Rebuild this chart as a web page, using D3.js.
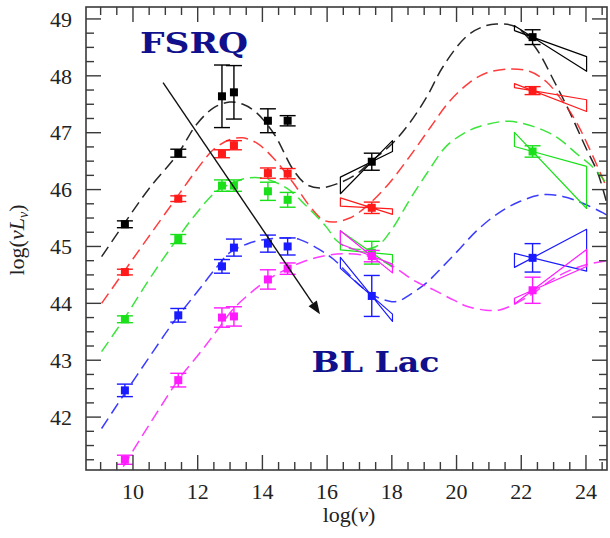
<!DOCTYPE html>
<html>
<head>
<meta charset="utf-8">
<script src="https://cdn.jsdelivr.net/npm/d3@7"></script>
<style>
  html, body { margin: 0; padding: 0; background: #fff; }
  svg { display: block; }
</style>
</head>
<body>
<svg id="chart" width="610" height="538"></svg>
<script>
// ---------------- DATA ----------------
const seriesNames = ["black", "red", "green", "blue", "magenta"];
const seriesColors = ["#000000", "#ff1a1a", "#19e019", "#1a1aff", "#ff1aff"];

// log(nu) positions of the observed points
const pointNu = [9.75, 11.4, 12.75, 13.12, 14.17, 14.78, 17.38, 22.35];

// log(nu L_nu) values and errors per series
const blackL   = [45.39, 46.64, 47.64, 47.71, 47.21, 47.21, 46.49, 48.68];
const blackErr = [0.06, 0.07, 0.55, 0.47, 0.21, 0.09, 0.15, 0.13];
const redL     = [44.55, 45.84, 46.63, 46.78, 46.29, 46.28, 45.68, 47.74];
const redErr   = [0.05, 0.05, 0.07, 0.08, 0.09, 0.09, 0.1, 0.07];
const greenL   = [43.72, 45.13, 46.07, 46.07, 45.97, 45.82, 44.89, 46.67];
const greenErr = [0.06, 0.08, 0.1, 0.1, 0.16, 0.13, 0.2, 0.1];
const blueL    = [42.47, 43.79, 44.65, 44.98, 45.05, 45.0, 44.13, 44.8];
const blueErr  = [0.11, 0.12, 0.12, 0.15, 0.15, 0.15, 0.36, 0.25];
const magentaL   = [41.25, 42.65, 43.75, 43.77, 44.42, 44.61, 44.83, 44.23];
const magentaErr = [0.08, 0.12, 0.17, 0.17, 0.17, 0.1, 0.1, 0.23];

// model SED curves (dashed): [log nu, log nuLnu]
const blackCurve = [[9.03,44.82],[9.75,45.42],[10.5,46.02],[11.4,46.64],[11.97,47.15],[12.5,47.44],[12.99,47.54],[13.4,47.5],[13.82,47.35],[14.38,46.96],[14.95,46.35],[15.36,46.09],[15.77,46.03],[16.3,46.1],[16.9,46.27],[17.37,46.5],[18.0,46.8],[18.55,47.17],[19.1,47.65],[19.58,48.16],[20.3,48.69],[20.8,48.86],[21.23,48.91],[21.84,48.86],[22.45,48.49],[23.02,47.9],[23.49,47.37],[24.0,46.73],[24.36,46.3],[24.65,45.75]];
const redCurve = [[9.03,44.0],[9.75,44.58],[10.42,45.12],[11.3,45.82],[11.97,46.35],[12.48,46.7],[13.0,46.88],[13.4,46.91],[13.82,46.82],[14.33,46.56],[14.95,46.12],[15.46,45.71],[15.87,45.47],[16.2,45.43],[16.7,45.5],[17.21,45.7],[17.9,46.1],[18.55,46.58],[19.2,47.1],[19.78,47.55],[20.4,47.88],[20.92,48.05],[21.6,48.12],[22.25,48.08],[22.77,47.9],[23.28,47.55],[23.69,47.2],[24.1,46.73],[24.65,46.02]];
const greenCurve = [[9.03,43.15],[9.75,43.75],[10.5,44.42],[11.35,45.12],[11.97,45.59],[12.58,45.97],[13.1,46.12],[13.51,46.2],[14.02,46.2],[14.74,46.03],[15.36,45.71],[15.98,45.34],[16.3,45.1],[16.75,44.96],[17.52,45.0],[18.0,45.3],[18.55,45.82],[19.1,46.3],[19.68,46.76],[20.2,46.98],[20.71,47.11],[21.64,47.2],[22.66,47.05],[23.2,46.88],[23.69,46.64],[24.2,46.4],[24.65,46.1]];
const blueCurve = [[9.03,41.8],[9.75,42.42],[10.5,43.05],[11.24,43.66],[11.97,44.19],[12.58,44.63],[12.99,44.89],[13.51,45.04],[14.02,45.12],[14.74,45.15],[15.16,45.12],[15.78,44.94],[16.19,44.78],[16.6,44.55],[17.0,44.32],[17.5,44.12],[18.0,44.03],[18.25,44.05],[18.55,44.15],[19.07,44.36],[19.58,44.65],[20.1,44.96],[20.61,45.27],[21.23,45.56],[21.95,45.79],[22.67,45.91],[23.28,45.88],[23.9,45.76],[24.53,45.59],[24.65,45.55]];
const magentaCurve = [[9.7,41.13],[10.22,41.61],[10.73,42.07],[11.42,42.67],[12.07,43.13],[12.58,43.51],[13.1,43.9],[13.71,44.22],[14.18,44.42],[14.74,44.6],[15.16,44.71],[15.78,44.82],[16.5,44.87],[17.2,44.84],[17.6,44.77],[18.04,44.65],[18.66,44.41],[19.28,44.24],[19.9,44.06],[20.31,43.95],[20.9,43.88],[21.3,43.88],[21.7,43.96],[22.3,44.15],[22.96,44.42],[23.5,44.58],[24.0,44.68],[24.65,44.75]];

// bow-ties: [nuStart, nuEnd, pivotNu, pivotL, slope1, slope2]
const xrayBowties = [
  [16.41, 18.02, 17.38, 46.49, 0.28, 0.58],
  [16.41, 18.02, 17.38, 45.68, -0.03, -0.18],
  [16.41, 18.02, 17.38, 44.89, -0.05, -0.4],
  [16.41, 18.02, 17.38, 44.13, -0.5, -0.7],
  [16.41, 18.02, 17.38, 44.83, -0.22, -0.46]
];
const gammaBowties = [
  [21.79, 24.02, 22.35, 48.68, -0.205, -0.36],
  [21.79, 24.02, 22.35, 47.74, -0.096, -0.22],
  [21.79, 24.02, 22.35, 46.67, -0.157, -0.6],
  [21.79, 24.02, 22.35, 44.80, 0.30, -0.14],
  [21.79, 24.02, 22.35, 44.23, 0.43, 0.25]
];

// axis ticks
const xTickLabels = [10, 12, 14, 16, 18, 20, 22, 24];
const yTickLabels = [42, 43, 44, 45, 46, 47, 48, 49];

// annotations
const arrowFrom = [10.93, 47.88];
const arrowTo = [15.78, 43.81];
const labelTexts = ["FSRQ", "BL Lac"];
const labelPos = [[10.22, 48.4], [15.52, 42.8]];

// ---------------- DRAWING ----------------
(function () {
const svg = d3.select("#chart");
const pL = 86, pR = 607, pT = 7, pB = 470;
const x = d3.scaleLinear().domain([8.548, 24.65]).range([pL, pR]);
const y = d3.scaleLinear().domain([41.07, 49.21]).range([pB, pT]);

svg.append("defs").append("clipPath").attr("id", "plotclip")
  .append("rect").attr("x", pL).attr("y", pT).attr("width", pR - pL).attr("height", pB - pT);

const allL = [blackL, redL, greenL, blueL, magentaL];
const allErr = [blackErr, redErr, greenErr, blueErr, magentaErr];
const allCurves = [blackCurve, redCurve, greenCurve, blueCurve, magentaCurve];

const plot = svg.append("g").attr("clip-path", "url(#plotclip)");

// dashed model curves
const line = d3.line().x(d => x(d[0])).y(d => y(d[1])).curve(d3.curveCatmullRom.alpha(0.5));
allCurves.forEach((c, i) => {
  plot.append("path").attr("d", line(c))
    .attr("fill", "none").attr("stroke", seriesColors[i])
    .attr("stroke-width", 1.5).attr("stroke-dasharray", "12,6")
    .attr("opacity", 0.85);
});

// bow-ties
function bowtiePath(b) {
  const [n0, n1, pn, pl, s1, s2] = b;
  const pts = [
    [n0, pl + s1 * (n0 - pn)],
    [n1, pl + s1 * (n1 - pn)],
    [n1, pl + s2 * (n1 - pn)],
    [n0, pl + s2 * (n0 - pn)]
  ];
  return "M" + pts.map(p => x(p[0]) + "," + y(p[1])).join("L") + "Z";
}
[xrayBowties, gammaBowties].forEach(set => {
  set.forEach((b, i) => {
    plot.append("path").attr("d", bowtiePath(b))
      .attr("fill", "none").attr("stroke", seriesColors[i])
      .attr("stroke-width", 1.2).attr("stroke-linejoin", "round");
  });
});

// error bars and points
const cap = 8, msz = 8;
allL.forEach((vals, i) => {
  const g = plot.append("g").attr("stroke", seriesColors[i]).attr("fill", seriesColors[i]);
  vals.forEach((v, j) => {
    const cx = x(pointNu[j]);
    const e = allErr[i][j];
    const y1 = y(v + e), y2 = y(v - e);
    g.append("line").attr("x1", cx).attr("x2", cx).attr("y1", y1).attr("y2", y2).attr("stroke-width", 1.4);
    g.append("line").attr("x1", cx - cap).attr("x2", cx + cap).attr("y1", y1).attr("y2", y1).attr("stroke-width", 1.4);
    g.append("line").attr("x1", cx - cap).attr("x2", cx + cap).attr("y1", y2).attr("y2", y2).attr("stroke-width", 1.4);
    g.append("rect").attr("x", cx - msz / 2).attr("y", y(v) - msz / 2)
      .attr("width", msz).attr("height", msz).attr("stroke", "none");
  });
});

// arrow
const ax1 = x(arrowFrom[0]), ay1 = y(arrowFrom[1]);
const ax2 = x(arrowTo[0]), ay2 = y(arrowTo[1]);
const ang = Math.atan2(ay2 - ay1, ax2 - ax1);
const headLen = 13, headW = 5;
const bx = ax2 - headLen * Math.cos(ang), by = ay2 - headLen * Math.sin(ang);
svg.append("line").attr("x1", ax1).attr("y1", ay1).attr("x2", bx).attr("y2", by)
  .attr("stroke", "#111").attr("stroke-width", 1.4);
svg.append("path")
  .attr("d", `M${ax2},${ay2}L${bx - headW * Math.sin(ang)},${by + headW * Math.cos(ang)}L${bx + headW * Math.sin(ang)},${by - headW * Math.cos(ang)}Z`)
  .attr("fill", "#111");

// labels
const labelLengths = [108, 128];
labelTexts.forEach((t, i) => {
  svg.append("text").attr("x", x(labelPos[i][0])).attr("y", y(labelPos[i][1]))
    .attr("font-family", "'DejaVu Serif', 'Liberation Serif', serif")
    .attr("font-weight", "bold").attr("font-size", 27.5)
    .attr("fill", "#10108c")
    .attr("textLength", labelLengths[i]).attr("lengthAdjust", "spacingAndGlyphs")
    .text(t);
});

// frame
const axisColor = "#3a3a3a";
svg.append("rect").attr("x", pL).attr("y", pT).attr("width", pR - pL).attr("height", pB - pT)
  .attr("fill", "none").attr("stroke", axisColor).attr("stroke-width", 1.6);

// ticks
const major = 15, minor = 8;
const tg = svg.append("g").attr("stroke", axisColor).attr("stroke-width", 1.4);
d3.range(9, 24.51, 0.5).forEach(v => {
  const isMaj = Math.abs(v % 2) < 1e-9;
  const len = isMaj ? major : minor;
  const px = x(v);
  tg.append("line").attr("x1", px).attr("x2", px).attr("y1", pB).attr("y2", pB - len);
  tg.append("line").attr("x1", px).attr("x2", px).attr("y1", pT).attr("y2", pT + len);
});
d3.range(41.25, 49.01, 0.25).forEach(v => {
  const isMaj = Math.abs(v - Math.round(v)) < 1e-9;
  const len = isMaj ? major : minor;
  const py = y(v);
  tg.append("line").attr("x1", pL).attr("x2", pL + len).attr("y1", py).attr("y2", py);
  tg.append("line").attr("x1", pR).attr("x2", pR - len).attr("y1", py).attr("y2", py);
});

// tick labels
const tickFont = "'Liberation Serif', 'DejaVu Serif', serif";
xTickLabels.forEach(v => {
  svg.append("text").attr("x", x(v)).attr("y", 499)
    .attr("text-anchor", "middle").attr("font-family", tickFont).attr("font-size", 22)
    .attr("fill", "#222").text(v);
});
yTickLabels.forEach(v => {
  svg.append("text").attr("x", 72).attr("y", y(v)).attr("dy", "0.35em")
    .attr("text-anchor", "end").attr("font-family", tickFont).attr("font-size", 22)
    .attr("fill", "#222").text(v);
});

// axis titles
const xt = svg.append("text").attr("x", 349).attr("y", 522)
  .attr("text-anchor", "middle").attr("font-family", tickFont).attr("font-size", 22).attr("fill", "#222");
xt.append("tspan").text("log(");
xt.append("tspan").attr("font-style", "italic").text("ν");
xt.append("tspan").text(")");

const yt = svg.append("text").attr("transform", "translate(24,240) rotate(-90)")
  .attr("text-anchor", "middle").attr("font-family", tickFont).attr("font-size", 22).attr("fill", "#222");
yt.append("tspan").text("log(");
yt.append("tspan").attr("font-style", "italic").text("νL");
yt.append("tspan").attr("font-style", "italic").attr("font-size", 14).attr("dy", 4).text("ν");
yt.append("tspan").attr("dy", -4).text(")");
})();
</script>
</body>
</html>
